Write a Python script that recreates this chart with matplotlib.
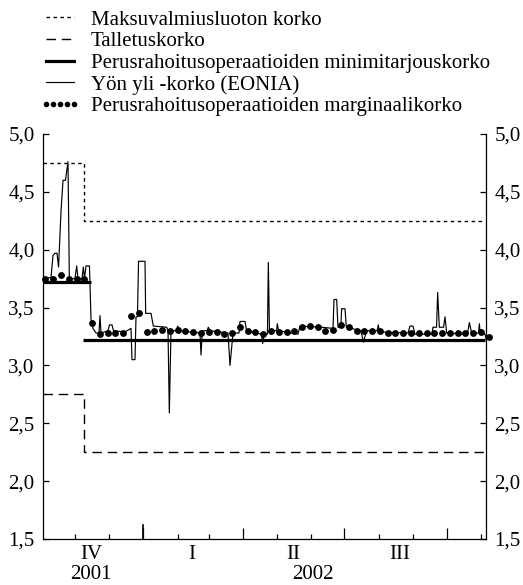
import pandas as pd
import matplotlib
matplotlib.use("Agg")
import matplotlib.pyplot as plt
import matplotlib.dates as mdates
from matplotlib.lines import Line2D
from matplotlib.ticker import FixedLocator, FuncFormatter


plt.rcParams["font.family"] = ["Liberation Serif", "DejaVu Serif"]

START = pd.Timestamp("2001-10-01")

# EONIA (days since 2001-10-01, %)
eonia_day = [
    1.8, 9.0, 10.8, 12.6, 14.4, 15.8, 18.0, 19.8, 22.0, 24.3, 25.5, 30.6,
    32.1, 33.3, 36.9, 38.1, 39.2, 40.5, 43.6, 45.0, 46.8, 49.5, 52.2, 53.1,
    54.0, 60.3, 61.6, 63.9, 65.2, 75.6, 81.0, 81.9, 84.6, 85.5, 86.8, 87.8,
    93.6, 94.2, 99.0, 101.1, 113.1, 114.3, 115.5, 117.0, 122.0, 123.0, 124.2,
    143.1, 144.0, 145.2, 149.4, 150.6, 152.1, 168.3, 170.1, 172.8, 178.2,
    179.1, 183.6, 185.0, 198.4, 199.5, 200.7, 203.8, 204.6, 205.6, 212.0,
    212.7, 213.8, 231.3, 233.1, 252.9, 262.8, 263.7, 266.1, 267.3, 269.8,
    270.6, 273.6, 274.8, 288.0, 290.1, 293.1, 302.4, 303.6, 304.6, 330.3,
    332.1, 334.8, 336.6, 351.9, 352.8, 356.0, 357.0, 358.5, 362.3, 363.6,
    365.1, 383.8, 385.5, 387.6, 393.8, 394.5, 395.4, 399.6, 400.5,
]
eonia = [
    3.75, 3.76, 3.95, 3.97, 3.97, 3.85, 4.33, 4.60, 4.60, 4.76, 3.75, 3.75,
    3.86, 3.75, 3.75, 3.85, 3.75, 3.86, 3.86, 3.40, 3.32, 3.28, 3.28, 3.43,
    3.28, 3.30, 3.35, 3.35, 3.30, 3.29, 3.32, 3.05, 3.05, 3.42, 3.42, 3.90,
    3.90, 3.45, 3.45, 3.34, 3.33, 3.30, 2.59, 3.30, 3.30, 3.34, 3.30,
    3.28, 3.09, 3.30, 3.30, 3.33, 3.30, 3.28, 3.00, 3.28, 3.28,
    3.38, 3.38, 3.30, 3.27, 3.19, 3.27, 3.27, 3.89, 3.30, 3.30,
    3.36, 3.30, 3.27, 3.34, 3.33, 3.32, 3.57, 3.57, 3.33, 3.33,
    3.49, 3.49, 3.33, 3.30, 3.20, 3.30, 3.30, 3.35, 3.29, 3.28,
    3.34, 3.34, 3.27, 3.27, 3.33, 3.33, 3.63, 3.33, 3.33, 3.42,
    3.28, 3.27, 3.37, 3.28, 3.28, 3.36, 3.27, 3.27, 3.23,
]

# weekly main refinancing operations: marginal rate
mro_first = "2001-10-05"
mro_marginal = [
    3.75, 3.75, 3.78, 3.75, 3.75, 3.75, 3.37, 3.27, 3.28, 3.28, 3.28, 3.43,
    3.45, 3.29, 3.30, 3.31, 3.30, 3.31, 3.30, 3.29, 3.28, 3.29, 3.29, 3.27,
    3.28, 3.33, 3.30, 3.29, 3.27, 3.30, 3.29, 3.29, 3.30, 3.33, 3.34, 3.33,
    3.30, 3.31, 3.35, 3.33, 3.30, 3.30, 3.30, 3.30, 3.28, 3.28, 3.28, 3.28,
    3.28, 3.28, 3.28, 3.28, 3.28, 3.28, 3.28, 3.28, 3.29, 3.25,
]

# standing facilities (step at 2001-11-09)
facility_dates = ["2001-10-03", "2001-11-09", "2001-11-09", "2002-11-05"]
marginal_lending = [4.75, 4.75, 4.25, 4.25]
deposit = [2.75, 2.75, 2.25, 2.25]

# minimum bid rate, drawn as two overlapping segments like the original
refi_old_dates = ["2001-10-03", "2001-11-15"]
refi_old = [3.72, 3.72]
refi_new_dates = ["2001-11-08", "2002-11-05"]
refi_new = [3.22, 3.22]

quarters = ["IV", "I", "II", "III"]
quarter_mid = ["2001-11-15", "2002-02-14", "2002-05-16", "2002-08-20"]
years = ["2001", "2002"]
year_mid = ["2001-11-15", "2002-06-03"]


eonia_dates = START + pd.to_timedelta(eonia_day, unit="D")
mro_dates = pd.date_range(mro_first, periods=len(mro_marginal), freq="7D")

fig = plt.figure(figsize=(5.23, 5.85), dpi=100)
ax = fig.add_axes([43 / 523, 1 - 539 / 585, 443 / 523, 405 / 585])

ax.plot(pd.to_datetime(facility_dates), marginal_lending,
        color="black", linewidth=1.0, dashes=(2.5, 2.5))
ax.plot(pd.to_datetime(facility_dates), deposit,
        color="black", linewidth=1.0, dashes=(6.8, 4.2))
ax.plot(pd.to_datetime(refi_old_dates), refi_old,
        color="black", linewidth=2.3, solid_capstyle="butt")
ax.plot(pd.to_datetime(refi_new_dates), refi_new,
        color="black", linewidth=2.3, solid_capstyle="butt")
ax.plot(eonia_dates, eonia, color="black", linewidth=0.85)
ax.plot(mro_dates, mro_marginal, linestyle="none", marker="o",
        markersize=3.9, color="black", zorder=5, clip_on=False)

ax.set_ylim(1.5, 5.0)
ax.set_xlim(START + pd.Timedelta(days=1.8), START + pd.Timedelta(days=400.5))

ax.spines["top"].set_visible(False)
for side in ["left", "right", "bottom"]:
    ax.spines[side].set_linewidth(0.9)

ax.yaxis.set_major_locator(FixedLocator([1.5, 2.0, 2.5, 3.0, 3.5, 4.0, 4.5, 5.0]))
ax.yaxis.set_major_formatter(FuncFormatter(lambda v, p: f"{v:.1f}".replace(".", ",")))
ax.tick_params(axis="y", direction="in", length=4, width=0.9,
               left=True, right=True, labelleft=True, labelright=True,
               labelsize=15, pad=6)

ax.xaxis.set_minor_locator(mdates.MonthLocator())
ax.xaxis.set_major_locator(mdates.MonthLocator(bymonth=[1, 4, 7, 10]))
ax.xaxis.set_major_formatter(plt.NullFormatter())
ax.tick_params(axis="x", which="minor", direction="in", length=3.5, width=0.9)
ax.tick_params(axis="x", which="major", direction="in", length=8, width=0.9)
ax.axvline(pd.Timestamp("2002-01-01"), ymin=0, ymax=0.035,
           color="black", linewidth=1.2)

trans = ax.get_xaxis_transform()
for label, mid in zip(quarters, quarter_mid):
    ax.text(pd.Timestamp(mid), -0.038, label, transform=trans,
            ha="center", va="center", fontsize=15)
for label, mid in zip(years, year_mid):
    ax.text(pd.Timestamp(mid), -0.087, label, transform=trans,
            ha="center", va="center", fontsize=15)

handles = [
    Line2D([], [], color="black", linewidth=1.0, dashes=(2.5, 2.5)),
    Line2D([], [], color="black", linewidth=1.0, dashes=(6.8, 4.2)),
    Line2D([], [], color="black", linewidth=2.3),
    Line2D([], [], color="black", linewidth=0.85),
    Line2D([], [], color="black", linestyle="none", marker="o", markersize=3.0),
]
labels = [
    "Maksuvalmiusluoton korko",
    "Talletuskorko",
    "Perusrahoitusoperaatioiden minimitarjouskorko",
    "Yön yli -korko (EONIA)",
    "Perusrahoitusoperaatioiden marginaalikorko",
]
fig.legend(handles, labels, loc="upper left",
           bbox_to_anchor=(40 / 523, 1 - 10 / 585),
           frameon=False, borderpad=0, borderaxespad=0,
           handlelength=1.92, handletextpad=0.53, labelspacing=0.1,
           numpoints=5, fontsize=15)

fig.savefig("out.png", dpi=100)
